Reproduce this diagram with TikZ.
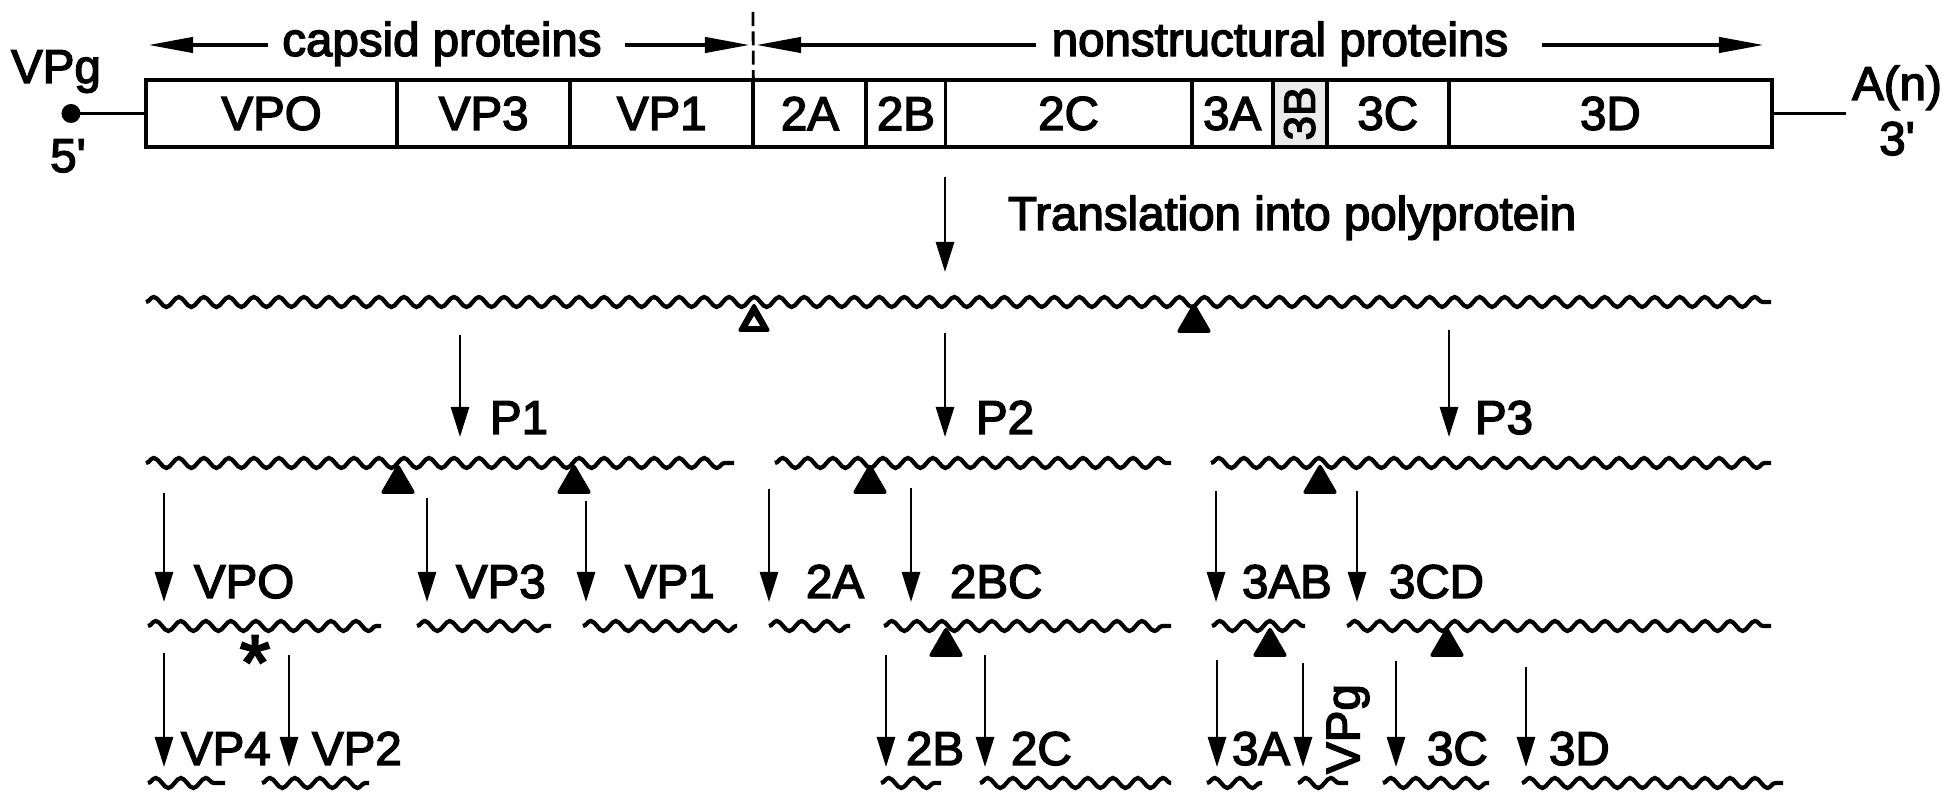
\documentclass[tikz,border=0pt]{standalone}
\usepackage{fontspec}
\setmainfont{Liberation Sans}
\newfontfamily\scanfont{Liberation Sans}[FakeBold=3, Ligatures=TeXOff]
\usetikzlibrary{arrows.meta,decorations.pathmorphing}
\newcommand\labfont{\scanfont\fontsize{13.5}{16}\selectfont}
\newcommand\smallrot{\scanfont\fontsize{12.5}{14}\selectfont}
\newcommand\starfont{\scanfont\fontsize{22}{22}\selectfont}
\begin{document}
\begin{tikzpicture}[x=0.01cm,y=-0.01cm,
  every node/.style={font=\labfont, inner sep=0pt, outer sep=0pt},
  seg/.style={draw, line width=1.1pt, minimum height=0.67cm, anchor=west},
  wave/.style={line width=1.2pt, decorate, decoration={snake, segment length=0.25cm, amplitude=0.05cm}},
  arr/.style={line width=0.8pt, -{Triangle[length=0.3cm,width=0.18cm]}},
  harr/.style={line width=1.2pt, -{Triangle[length=0.45cm,width=0.15cm]}},
  thin/.style={line width=1pt},
  lbl/.style={anchor=base west},
  cut/.pic={\fill[rounded corners=0.035cm] (0,0) -- (-18,31) -- (18,31) -- cycle;},
  opencut/.pic={\fill[rounded corners=0.035cm] (0,0) -- (-17,30) -- (17,30) -- cycle;
                \fill[white] (0,14) -- (-6,24) -- (6,24) -- cycle;}
]
\useasboundingbox (0,0) rectangle (1960,795);

% ---------- genome box ----------
\node[seg, minimum width=2.51cm] (s1) at (146,113.5) {VPO};
\node[seg, minimum width=1.73cm] (s2) at (s1.east) {VP3};
\node[seg, minimum width=1.83cm] (s3) at (s2.east) {VP1};
\node[seg, minimum width=1.13cm] (s4) at (s3.east) {2A};
\node[seg, minimum width=0.79cm] (s5) at (s4.east) {2B};
\node[seg, minimum width=2.46cm] (s6) at (s5.east) {2C};
\node[seg, minimum width=0.81cm] (s7) at (s6.east) {3A};
\node[seg, minimum width=0.54cm, fill=black!8] (s8) at (s7.east) {};
\node[rotate=90, font=\smallrot] (t8) at (s8.center) {3B};
\node[seg, minimum width=1.22cm] (s9) at (s8.east) {3C};
\node[seg, minimum width=3.23cm] (s10) at (s9.east) {3D};

\node[circle, fill, minimum size=0.19cm] (dot) at (71,113.5) {};
\draw[thin] (dot.center) -- (s1.west);
\coordinate (tail) at (1846,113.5);
\draw[thin] (s10.east) -- (tail);
\node[anchor=base] (vpg) at (56,83) {VPg};
\node[anchor=base] (five) at (68,172) {5'};
\node[anchor=base] (an) at (1897,100) {A(n)};
\node[anchor=base] (three) at (1897,155) {3'};

% ---------- top labels ----------
\coordinate (c1s) at (268,45); \coordinate (c1t) at (148,45);
\coordinate (c2s) at (625,45); \coordinate (c2t) at (750,45);
\coordinate (n1s) at (1036,45); \coordinate (n1t) at (756,45);
\coordinate (n2s) at (1542,45); \coordinate (n2t) at (1764,45);
\draw[harr] (c1s) -- (c1t);
\draw[harr] (c2s) -- (c2t);
\draw[harr] (n1s) -- (n1t);
\draw[harr] (n2s) -- (n2t);
\node[anchor=base] (capsid) at (442,56) {capsid proteins};
\node[anchor=base] (nonstr) at (1280,56) {nonstructural proteins};
\coordinate (dtop) at (753,12);
\draw[line width=0.8pt, dash pattern=on 4pt off 1.5pt] (dtop) -- (s3.north east);

% ---------- translation ----------
\coordinate (tr0) at (945,177); \coordinate (tr1) at (945,272);
\draw[arr] (tr0) -- (tr1);
\node[lbl] (transl) at (1008,230) {Translation into polyprotein};

\coordinate (w0a) at (146,302); \coordinate (w0b) at (1771,302);
\draw[wave] (w0a) -- (w0b);
\pic at (754,302) {opencut};
\pic at (1194,302) {cut};

% ---------- P1 P2 P3 ----------
\coordinate (p1a) at (460,335); \coordinate (p1b) at (460,437);
\coordinate (p2a) at (945,333); \coordinate (p2b) at (945,437);
\coordinate (p3a) at (1449,330); \coordinate (p3b) at (1449,437);
\draw[arr] (p1a) -- (p1b);
\draw[arr] (p2a) -- (p2b);
\draw[arr] (p3a) -- (p3b);
\node[lbl] (P1) at (490,434) {P1};
\node[lbl] (P2) at (976,434) {P2};
\node[lbl] (P3) at (1475,434) {P3};

\coordinate (w1a) at (146,463); \coordinate (w1b) at (734,463);
\coordinate (w2a) at (775,463); \coordinate (w2b) at (1171,463);
\coordinate (w3a) at (1211,463); \coordinate (w3b) at (1771,463);
\draw[wave] (w1a) -- (w1b);
\draw[wave] (w2a) -- (w2b);
\draw[wave] (w3a) -- (w3b);
\pic at (398,463) {cut};
\pic at (574,463) {cut};
\pic at (870,463) {cut};
\pic at (1320,463) {cut};

% ---------- row 4 ----------
\foreach \n/\x/\t in {vpo/164/493, vpt/427/498, vpa/586/501, ta/769/489, tbc/911/488, tab/1216/491, tcd/1357/491}{
  \coordinate (\n a) at (\x,\t); \coordinate (\n b) at (\x,602);
  \draw[arr] (\n a) -- (\n b);
}
\node[lbl] (lVPO) at (194,598) {VPO};
\node[lbl] (lVP3) at (456,598) {VP3};
\node[lbl] (lVP1) at (625,598) {VP1};
\node[lbl] (l2A) at (806,598) {2A};
\node[lbl] (l2BC) at (950,598) {2BC};
\node[lbl] (l3AB) at (1242,598) {3AB};
\node[lbl] (l3CD) at (1389,598) {3CD};

\foreach \n/\a/\b in {q1/148/381, q2/417/551, q3/583/737, q4/769/850, q5/884/1171, q6/1212/1305, q7/1347/1771}{
  \coordinate (\n a) at (\a,626); \coordinate (\n b) at (\b,626);
  \draw[wave] (\n a) -- (\n b);
}
\pic at (946,626) {cut};
\pic at (1270,626) {cut};
\pic at (1447,626) {cut};
\node[anchor=base, font=\starfont] (star) at (255,689) {*};

% ---------- row 5 ----------
\foreach \n/\x/\t in {vpf/164/653, vpb/289/655, tb/886/655, tc/985/655, thA/1217/660, vg/1303/663, thC/1396/661, thD/1526/667}{
  \coordinate (\n a) at (\x,\t); \coordinate (\n b) at (\x,767);
  \draw[arr] (\n a) -- (\n b);
}
\node[lbl] (lVP4) at (181,765) {VP4};
\node[lbl] (lVP2) at (312,765) {VP2};
\node[lbl] (l2B) at (906,765) {2B};
\node[lbl] (l2C) at (1011,765) {2C};
\node[lbl] (l3A) at (1232,765) {3A};
\node[rotate=90] (lVPg) at (1348,729) {VPg};
\node[lbl] (l3C) at (1427,765) {3C};
\node[lbl] (l3D) at (1549,765) {3D};

\foreach \n/\a/\b in {r1/148/225, r2/262/369, r3/881/941, r4/980/1171, r5/1207/1262, r6/1298/1348, r7/1383/1489, r8/1522/1783}{
  \coordinate (\n a) at (\a,783); \coordinate (\n b) at (\b,783);
  \draw[wave] (\n a) -- (\n b);
}
\end{tikzpicture}
\end{document}
